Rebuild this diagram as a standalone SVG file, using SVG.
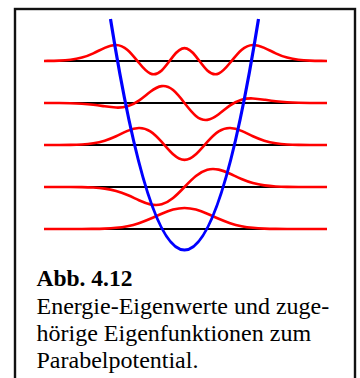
<svg xmlns="http://www.w3.org/2000/svg" width="360" height="378" viewBox="0 0 360 378">
<style>
.frame{fill:#fff;stroke:#111;stroke-width:2.4}
.level{stroke:#000;stroke-width:2;fill:none}
.psi{stroke:#f00;stroke-width:2.6;fill:none;stroke-linejoin:round;stroke-linecap:butt}
.pot{stroke:#00f;stroke-width:3.2;fill:none}
.cap{font-family:"Liberation Serif","Times New Roman",serif;font-size:24px;fill:#000}
.capb{font-weight:bold;font-size:23.5px}
</style>
<rect width="360" height="378" fill="#fff"/>
<rect id="frame" class="frame" x="15" y="9" width="340" height="385"/>
<g id="levels">
<line class="level" x1="44" y1="61" x2="327" y2="61"/>
<line class="level" x1="44" y1="103" x2="327" y2="103"/>
<line class="level" x1="44" y1="145" x2="327" y2="145"/>
<line class="level" x1="44" y1="187" x2="327" y2="187"/>
<line class="level" x1="44" y1="229" x2="327" y2="229"/>
</g>
<g id="wavefunctions">
<path id="psi4" class="psi" d="M44 61 L47.7 60.92 C51.5 60.88 55.3 60.82 59.1 60.66 S66.7 60.26 70.5 59.80 S78.1 58.64 81.9 57.58 S89.5 55.07 93.3 53.32 S100.9 49.52 104.7 47.82 S112.3 44.84 116.1 44.96 S123.7 46.71 127.5 49.96 S135.1 58.10 138.9 62.80 S146.5 71.83 150.3 73.51 S157.9 74.04 161.7 70.48 S169.3 61.10 173.1 56.32 S180.7 48.12 184.5 48.12 S192.1 51.54 195.9 56.32 S203.5 66.92 207.3 70.48 S214.9 75.19 218.7 73.51 S226.3 67.50 230.1 62.80 S237.7 53.21 241.5 49.96 S249.1 45.08 252.9 44.96 S260.5 46.12 264.3 47.82 S271.9 51.57 275.7 53.32 S283.3 56.52 287.1 57.58 S294.7 59.34 298.5 59.80 S306.1 60.50 309.9 60.66 S317.5 60.88 321.3 60.92 L327 61"/>
<path id="psi3" class="psi" d="M44 103 L47.7 103.01 C51.5 103.0 55.3 103.03 59.1 103.06 S66.7 103.12 70.5 103.21 S78.1 103.44 81.9 103.68 S89.5 104.25 93.3 104.70 S100.9 105.74 104.7 106.31 S112.3 107.42 116.1 107.57 S123.7 107.44 127.5 106.33 S135.1 103.24 138.9 100.59 S146.5 94.64 150.3 91.79 S157.9 86.65 161.7 86.14 S169.3 86.97 173.1 90.10 S180.7 98.08 184.5 103 S192.1 112.77 195.9 115.90 S203.5 120.37 207.3 119.86 S214.9 117.06 218.7 114.21 S226.3 108.06 230.1 105.41 S237.7 100.78 241.5 99.67 S249.1 98.28 252.9 98.43 S260.5 99.12 264.3 99.69 S271.9 100.84 275.7 101.30 S283.3 102.09 287.1 102.32 S294.7 102.70 298.5 102.79 S306.1 102.92 309.9 102.94 S317.5 102.98 321.3 102.99 L327 103"/>
<path id="psi2" class="psi" d="M44 145 L59.1 144.97 C62.9 144.95 66.7 144.92 70.5 144.85 S78.1 144.66 81.9 144.43 S89.5 143.86 93.3 143.27 S100.9 141.85 104.7 140.67 S112.3 137.96 116.1 136.22 S123.7 132.52 127.5 130.91 S135.1 128.08 138.9 127.97 S146.5 128.94 150.3 131.39 S157.9 137.70 161.7 141.98 S169.3 150.90 173.1 154.33 S180.7 159.87 184.5 159.87 S192.1 157.76 195.9 154.33 S203.5 146.26 207.3 141.98 S214.9 133.84 218.7 131.39 S226.3 127.86 230.1 127.97 S237.7 129.30 241.5 130.91 S249.1 134.48 252.9 136.22 S260.5 139.49 264.3 140.67 S271.9 142.68 275.7 143.27 S283.3 144.20 287.1 144.43 S294.7 144.78 298.5 144.85 S306.1 144.95 309.9 144.97 L327 145"/>
<path id="psi1" class="psi" d="M44 187 L70.5 187.04 C74.3 187.06 78.1 187.09 81.9 187.16 S89.5 187.35 93.3 187.57 S100.9 188.11 104.7 188.65 S112.3 189.95 116.1 191.01 S123.7 193.44 127.5 195.05 S135.1 198.51 138.9 200.23 S146.5 203.52 150.3 204.37 S157.9 205.32 161.7 204.28 S169.3 201.05 173.1 197.98 S180.7 190.96 184.5 187 S192.1 179.09 195.9 176.02 S203.5 170.76 207.3 169.72 S214.9 168.78 218.7 169.63 S226.3 172.05 230.1 173.77 S237.7 177.34 241.5 178.95 S249.1 181.93 252.9 182.99 S260.5 184.81 264.3 185.35 S271.9 186.21 275.7 186.43 S283.3 186.77 287.1 186.84 S294.7 186.94 298.5 186.96 L327 187"/>
<path id="psi0" class="psi" d="M44 229 L70.5 229 C74.3 229 78.1 229 81.9 229 S89.5 228.93 93.3 228.87 S100.9 228.74 104.7 228.58 S112.3 228.20 116.1 227.82 S123.7 226.92 127.5 226.16 S135.1 224.41 138.9 223.16 S146.5 220.41 150.3 218.78 S157.9 215.38 161.7 213.75 S169.3 210.65 173.1 209.62 S180.7 208 184.5 208 S192.1 208.58 195.9 209.62 S203.5 212.12 207.3 213.75 S214.9 217.15 218.7 218.78 S226.3 221.91 230.1 223.16 S237.7 225.40 241.5 226.16 S249.1 227.44 252.9 227.82 S260.5 228.42 264.3 228.58 S271.9 228.82 275.7 228.87 S283.3 228.95 287.1 228.97 S294.7 229 298.5 229 L327 229"/>
</g>
<g id="potential">
<path class="pot" d="M110.5 19 Q184.5 481 258.5 19"/>
</g>
<g id="caption">
<text class="cap capb" x="36.5" y="286">Abb. 4.12</text>
<text class="cap" x="36.5" y="313.5">Energie-Eigenwerte und zuge-</text>
<text class="cap" x="36.5" y="341">hörige Eigenfunktionen zum</text>
<text class="cap" x="36.5" y="368">Parabelpotential.</text>
</g>
</svg>
